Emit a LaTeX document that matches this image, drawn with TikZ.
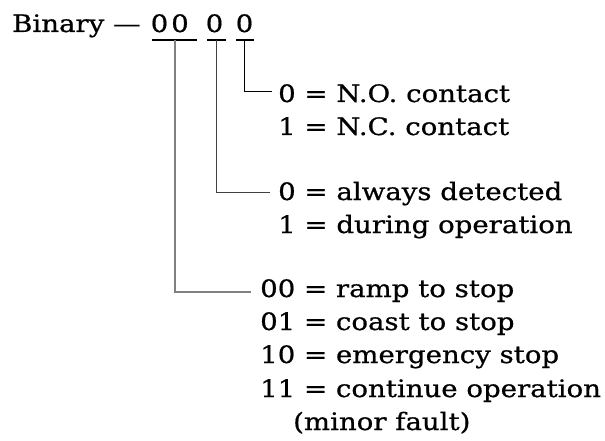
\documentclass[tikz,border=0pt]{standalone}
\usepackage{fontspec}
\setmainfont{DejaVu Serif}
\newfontfamily\lblfont{DejaVu Serif}[FakeStretch=1.15,FakeBold=0.7]
\begin{document}
\begin{tikzpicture}[x=1pt,y=-1pt,
  lbl/.style={anchor=base west,inner sep=0pt,font=\fontsize{24}{28}\lblfont},
  dig/.style={anchor=base,inner sep=0pt,font=\fontsize{24}{28}\lblfont},
  uline/.style={line width=2pt,black},
  leadA/.style={line width=1.3pt,gray},
  leadB/.style={line width=1pt,black!75},
  leadC/.style={line width=0.8pt,black}]
\useasboundingbox (0,0) rectangle (605,441);
% header
\node[lbl] (bin) at (12,32) {Binary —};
\node[dig] (d1) at (159.5,32) {0};
\node[dig] (d2) at (180,32) {0};
\node[dig] (d3) at (214.5,32) {0};
\node[dig] (d4) at (244.5,32) {0};
% underlines
\coordinate (u1s) at (152,40); \coordinate (u1e) at (197,40);
\coordinate (u3s) at (207,40); \coordinate (u3e) at (226,40);
\coordinate (u4s) at (236,40); \coordinate (u4e) at (254,40);
\draw[uline] (u1s) -- (u1e);
\draw[uline] (u3s) -- (u3e);
\draw[uline] (u4s) -- (u4e);
\coordinate (u1) at (175,40);
\coordinate (u3) at (216,40);
\coordinate (u4) at (244,40);
% texts
\node[lbl] (t1a) at (278,102) {0 = N.O. contact};
\node[lbl] (t1b) at (278,135) {1 = N.C. contact};
\node[lbl] (t2a) at (278,200) {0 = always detected};
\node[lbl] (t2b) at (278,233) {1 = during operation};
\node[lbl] (t3a) at (260,297) {00 = ramp to stop};
\node[lbl] (t3b) at (260,330) {01 = coast to stop};
\node[lbl] (t3c) at (260,363) {10 = emergency stop};
\node[lbl] (t3d) at (260,397) {11 = continue operation};
\node[lbl] (t3e) at (293,430) {(minor fault)};
% leader ends
\coordinate (e4) at (272,91);
\coordinate (e3) at (270,192);
\coordinate (e1) at (251,292);
\draw[leadC] (u4) |- (e4);
\draw[leadB] (u3) |- (e3);
\draw[leadA] (u1) |- (e1);
\end{tikzpicture}
\end{document}
